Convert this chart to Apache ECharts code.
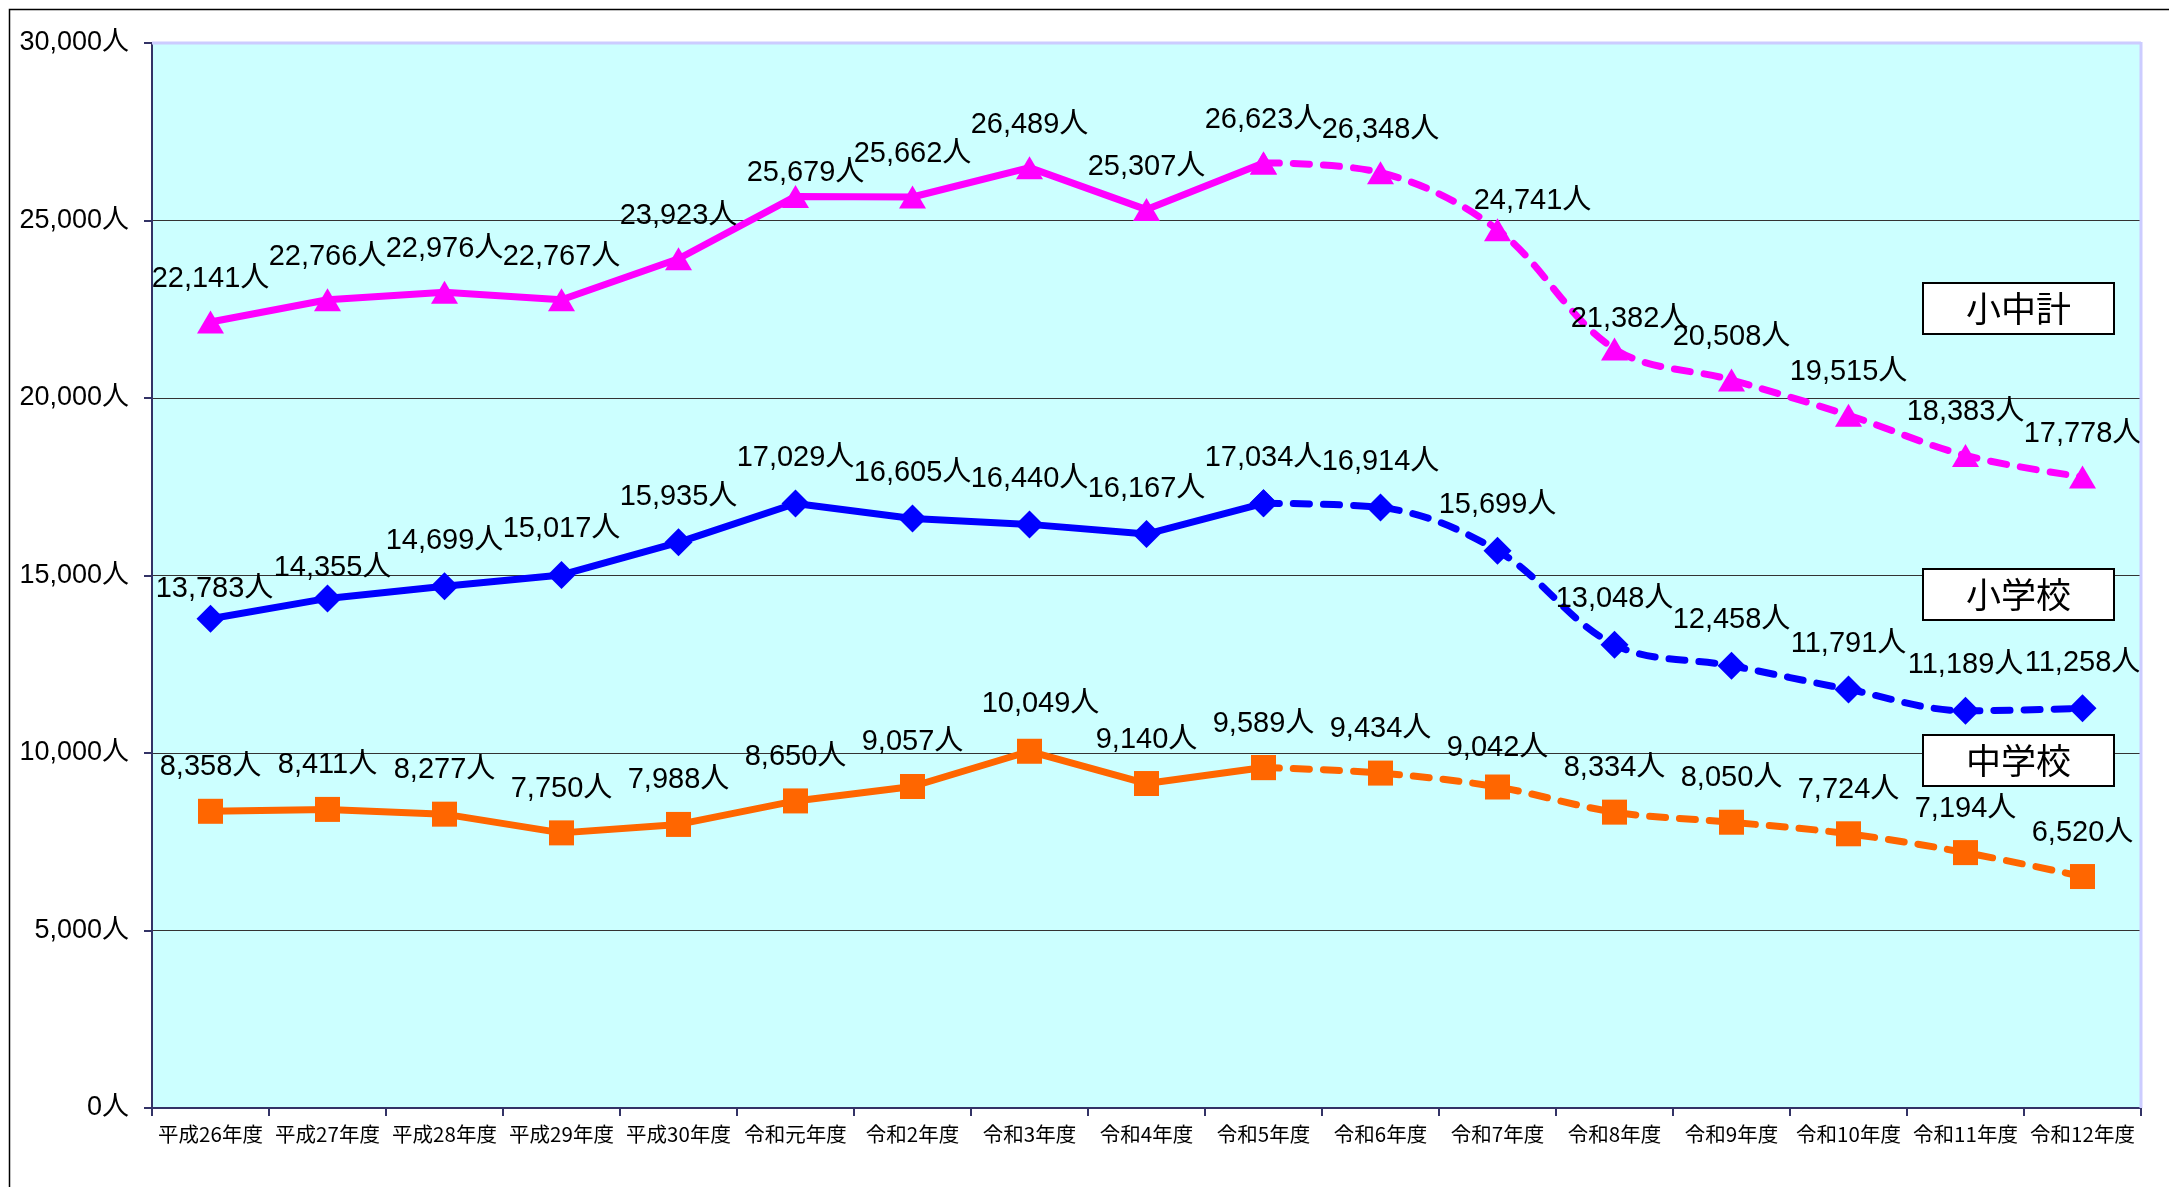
<!DOCTYPE html>
<html>
<head>
<meta charset="utf-8">
<script src="https://cdn.jsdelivr.net/npm/echarts@6/dist/echarts.min.js"></script>
<style>
html,body{margin:0;padding:0;background:#fff;}
#c{width:2169px;height:1187px;}
</style>
</head>
<body>
<div id="c"></div>
<script>
const categories = ['平成26年度','平成27年度','平成28年度','平成29年度','平成30年度','令和元年度','令和2年度','令和3年度','令和4年度','令和5年度','令和6年度','令和7年度','令和8年度','令和9年度','令和10年度','令和11年度','令和12年度'];
const totalValues = [22141,22766,22976,22767,23923,25679,25662,26489,25307,26623,26348,24741,21382,20508,19515,18383,17778];
const elementaryValues = [13783,14355,14699,15017,15935,17029,16605,16440,16167,17034,16914,15699,13048,12458,11791,11189,11258];
const juniorValues = [8358,8411,8277,7750,7988,8650,9057,10049,9140,9589,9434,9042,8334,8050,7724,7194,6520];
const lastActualIndex = 9;
const yTicks = [0,5000,10000,15000,20000,25000,30000];

// label nudges (styling only): index -> [dx, dy] in px
const labelNudges = {
  '小中計': { 5: [10, 20], 11: [35, 14], 12: [15, 13] },
  '小学校': { 0: [4, 16], 1: [5, 15] },
  '中学校': { 7: [11, -3], 11: [0, 5] }
};

const FONT = '"Liberation Sans", "Noto Sans CJK JP", sans-serif';
const fmt = v => Number(v).toLocaleString('en-US') + '人';

function makeSeries(name, values, color, symbol, symbolSize) {
  const nudges = labelNudges[name] || {};
  const item = (v, i) => {
    if (nudges[i]) return { value: v, label: { offset: nudges[i] } };
    return v;
  };
  const solid = values.map((v, i) => i <= lastActualIndex ? item(v, i) : '-');
  const dashed = values.map((v, i) => i >= lastActualIndex ? item(v, i) : '-');
  const label = {
    show: true, position: 'top', distance: 17, color: '#000',
    fontSize: 29, fontFamily: FONT
  };
  return [
    {
      name: name, type: 'line', data: solid, symbol: symbol, symbolSize: symbolSize,
      lineStyle: { color: color, width: 7 }, itemStyle: { color: color },
      label: Object.assign({}, label, { formatter: p => fmt(p.value) }),
      z: 3
    },
    {
      name: name + '(推計)', type: 'line', data: dashed, symbol: symbol, symbolSize: symbolSize,
      smooth: 0.35,
      lineStyle: { color: color, width: 7, type: [16, 14], cap: 'round' }, itemStyle: { color: color },
      label: Object.assign({}, label, { formatter: p => p.dataIndex === lastActualIndex ? '' : fmt(p.value) }),
      z: 3
    }
  ];
}

const chart = echarts.init(document.getElementById('c'));

function legendBox(text, top) {
  return {
    type: 'rect', left: 1922, top: top, shape: { width: 191, height: 51 },
    style: { fill: '#fff', stroke: '#000', lineWidth: 2 }, z: 10,
    textContent: {
      style: { text: text, fontSize: 35, fontFamily: '"Noto Sans CJK JP", sans-serif', fill: '#000' },
      z: 11
    },
    textConfig: { position: 'inside' }
  };
}

chart.setOption({
  animation: false,
  backgroundColor: '#fff',
  grid: { left: 152, top: 43, right: 28, bottom: 79, show: true, backgroundColor: '#CCFFFF', borderWidth: 0 },
  xAxis: {
    type: 'category', data: categories, boundaryGap: true,
    axisLine: { lineStyle: { color: '#333366', width: 2 } },
    axisTick: { show: true, length: 8, alignWithLabel: false, lineStyle: { color: '#333366', width: 2 } },
    axisLabel: { color: '#000', fontSize: 20.5, fontFamily: '"Noto Sans CJK JP", sans-serif', margin: 16, interval: 0 }
  },
  yAxis: {
    type: 'value', min: yTicks[0], max: yTicks[yTicks.length - 1], interval: yTicks[1] - yTicks[0],
    axisLine: { show: true, lineStyle: { color: '#333366', width: 2 } },
    axisTick: { show: true, length: 8, lineStyle: { color: '#333366', width: 2 } },
    axisLabel: { color: '#000', fontSize: 27, fontFamily: FONT, margin: 23, formatter: v => fmt(v) },
    splitLine: { show: true, lineStyle: { color: '#333', width: 1.2 } }
  },
  series: [].concat(
    makeSeries('小中計', totalValues, '#FF00FF', 'triangle', [27, 23]),
    makeSeries('小学校', elementaryValues, '#0000FF', 'diamond', [28, 28]),
    makeSeries('中学校', juniorValues, '#FF6600', 'rect', [25, 25])
  ),
  graphic: [
    { type: 'rect', left: 7, top: 7, shape: { width: 2300, height: 1300 },
      style: { fill: 'none', stroke: '#000', lineWidth: 1.5 }, z: 0, silent: true },
    { type: 'line', shape: { x1: 152, y1: 43, x2: 2141, y2: 43 }, style: { stroke: '#CCCCFF', lineWidth: 3 }, z: 5 },
    { type: 'line', shape: { x1: 2141, y1: 42, x2: 2141, y2: 1108 }, style: { stroke: '#CCCCFF', lineWidth: 3 }, z: 5 },
    legendBox('小中計', 282), legendBox('小学校', 568), legendBox('中学校', 734)
  ]
});
</script>
</body>
</html>
